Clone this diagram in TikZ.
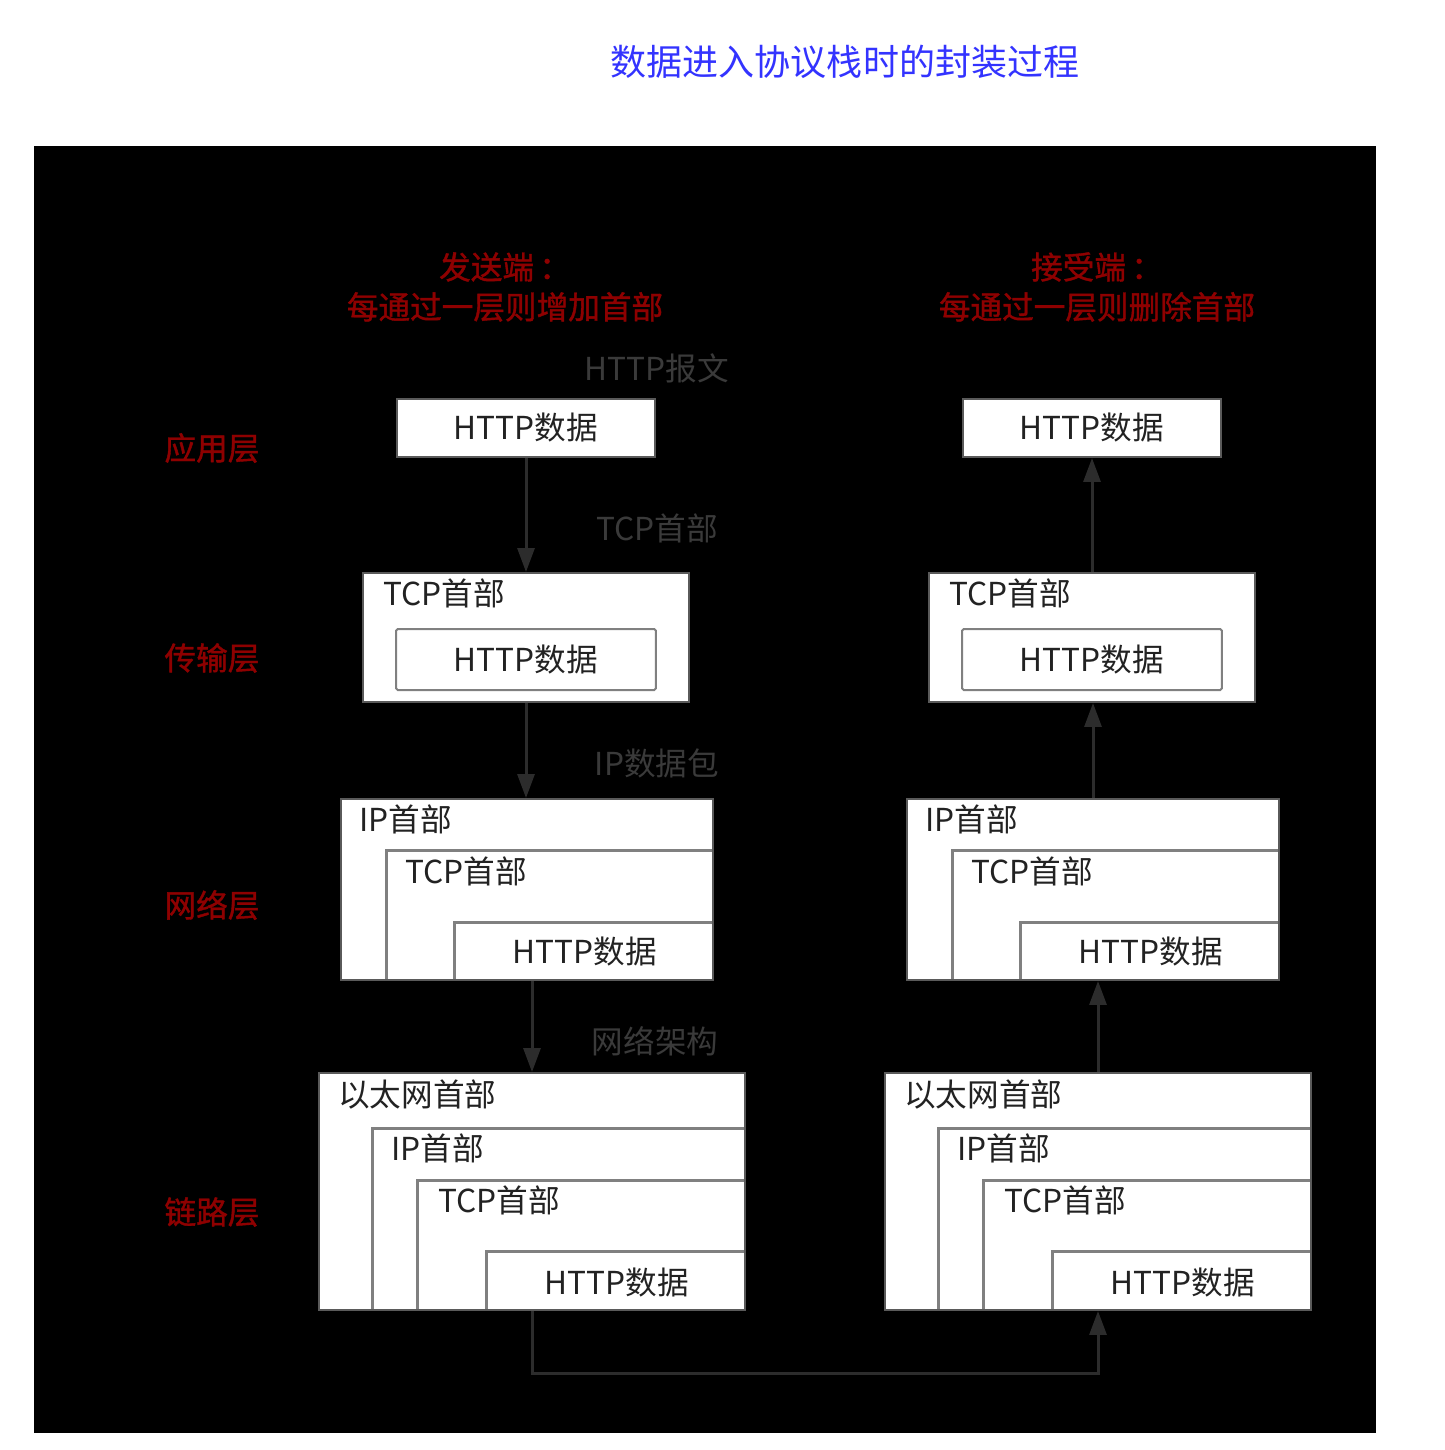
\documentclass[tikz,border=0pt]{standalone}
\usepackage{fontspec}
\setmainfont{Noto Sans CJK SC}
\newfontfamily\hdfont[FakeBold=1.2]{Noto Sans CJK SC}
\usetikzlibrary{positioning,arrows.meta}
\definecolor{pktRed}{HTML}{8E0000}
\definecolor{pktTag}{HTML}{3A3A3A}
\definecolor{pktLine}{HTML}{2C2C2C}
\definecolor{pktEdge}{HTML}{5A5A5A}
\definecolor{pktSub}{HTML}{808080}
\definecolor{pktBlue}{HTML}{3333FF}
\definecolor{pktText}{HTML}{222222}
\tikzset{
  pkt/.style={draw=pktEdge, line width=0.04cm, fill=white, inner sep=0pt,
    text=pktText, font=\fontsize{18}{22}\selectfont},
  sub/.style={draw=pktSub, line width=0.06cm},
  hdr/.style={inner sep=0pt, anchor=west, text=pktText, font=\fontsize{18}{22}\selectfont},
  layer/.style={inner sep=0pt, text=pktRed, font=\hdfont\fontsize{18}{22}\selectfont},
  tag/.style={inner sep=0pt, text=pktTag, font=\fontsize{18}{22}\selectfont},
  flow/.style={draw=pktLine, line width=0.06cm, -{Triangle[width=0.34cm,length=0.48cm]}},
}

\begin{document}
\begin{tikzpicture}[x=0.02cm, y=-0.02cm]
  \useasboundingbox (0,0) rectangle (1444,1450);
  \fill[white] (0,0) rectangle (1444,1450);
  \fill[black] (34,146) rectangle (1376,1433);

  % title
  \node[inner sep=0pt, text=pktBlue, font=\fontsize{20.5}{24}\selectfont] (title) at (845,62)
    {数据进入协议栈时的封装过程};

  % side headings
  \node[layer, align=center, font=\hdfont\fontsize{18}{22.7}\selectfont] (sendHd) at (505,287)
    {发送端\,：\\每通过一层则增加首部};
  \node[layer, align=center, font=\hdfont\fontsize{18}{22.7}\selectfont] (recvHd) at (1097,287)
    {接受端\,：\\每通过一层则删除首部};

  % layer names
  \node[layer] (lApp) at (212,448) {应用层};
  \node[layer] (lTcp) at (212,658) {传输层};
  \node[layer] (lIp)  at (212,905) {网络层};
  \node[layer] (lEth) at (212,1212) {链路层};

  % unit names
  \node[tag] (tApp) at (657,368) {HTTP报文};
  \node[tag] (tTcp) at (657,528) {TCP首部};
  \node[tag] (tIp)  at (657,763) {IP数据包};
  \node[tag] (tEth) at (655,1041) {网络架构};

  % sender stack
  \node[pkt, minimum width=5.16cm, minimum height=1.16cm] (sApp) at (526,428) {HTTP数据};

  \node[pkt, minimum width=6.52cm, minimum height=2.58cm] (sTcp) at (526,637.5) {};
  \node[hdr] (sTcpH) at (383,593) {TCP首部};
  \node[pkt, draw=pktSub, rounded corners=1pt, minimum width=5.2cm, minimum height=1.22cm]
    (sTcpD) at (526,659.5) {HTTP数据};

  \node[pkt, minimum width=7.44cm, minimum height=3.62cm] (sIp) at (527,889.5) {};
  \draw[sub] (386,979) |- (712,850);
  \draw[sub] (454,979) |- (712,922);
  \node[hdr] (sIpH) at (359,819) {IP首部};
  \node[hdr] (sIpT) at (405,871) {TCP首部};
  \node[pkt, draw=none, fill=none] (sIpD) at (585,952) {HTTP数据};

  \node[pkt, minimum width=8.52cm, minimum height=4.74cm] (sEth) at (532,1191.5) {};
  \draw[sub] (372,1309) |- (744,1128);
  \draw[sub] (417,1309) |- (744,1180);
  \draw[sub] (486,1309) |- (744,1251);
  \node[hdr] (sEthH) at (338,1094) {以太网首部};
  \node[hdr] (sEthI) at (391,1148) {IP首部};
  \node[hdr] (sEthT) at (438,1200) {TCP首部};
  \node[pkt, draw=none, fill=none] (sEthD) at (617,1282) {HTTP数据};

  % receiver stack
  \node[pkt, minimum width=5.16cm, minimum height=1.16cm] (rApp) at (1092,428) {HTTP数据};

  \node[pkt, minimum width=6.52cm, minimum height=2.58cm] (rTcp) at (1092,637.5) {};
  \node[hdr] (rTcpH) at (949,593) {TCP首部};
  \node[pkt, draw=pktSub, rounded corners=1pt, minimum width=5.2cm, minimum height=1.22cm]
    (rTcpD) at (1092,659.5) {HTTP数据};

  \node[pkt, minimum width=7.44cm, minimum height=3.62cm] (rIp) at (1093,889.5) {};
  \draw[sub] (952,979) |- (1278,850);
  \draw[sub] (1020,979) |- (1278,922);
  \node[hdr] (rIpH) at (925,819) {IP首部};
  \node[hdr] (rIpT) at (971,871) {TCP首部};
  \node[pkt, draw=none, fill=none] (rIpD) at (1151,952) {HTTP数据};

  \node[pkt, minimum width=8.52cm, minimum height=4.74cm] (rEth) at (1098,1191.5) {};
  \draw[sub] (938,1309) |- (1310,1128);
  \draw[sub] (983,1309) |- (1310,1180);
  \draw[sub] (1052,1309) |- (1310,1251);
  \node[hdr] (rEthH) at (904,1094) {以太网首部};
  \node[hdr] (rEthI) at (957,1148) {IP首部};
  \node[hdr] (rEthT) at (1004,1200) {TCP首部};
  \node[pkt, draw=none, fill=none] (rEthD) at (1183,1282) {HTTP数据};

  % going down
  \draw[flow] (sApp.south) -- (sTcp.north);
  \draw[flow] (sTcp.south) -- (sTcp.south |- sIp.north);
  \draw[flow] (sEth.north |- sIp.south) -- (sEth.north);

  % across the wire
  \draw[flow] (sEth.south) -- ++(0,63) -| (rEth.south);

  % going up
  \draw[flow] (rEth.north) -- (rEth.north |- rIp.south);
  \draw[flow] (rIp.north) -- (rIp.north |- rTcp.south);
  \draw[flow] (rTcp.north) -- (rApp.south);
\end{tikzpicture}
\end{document}
